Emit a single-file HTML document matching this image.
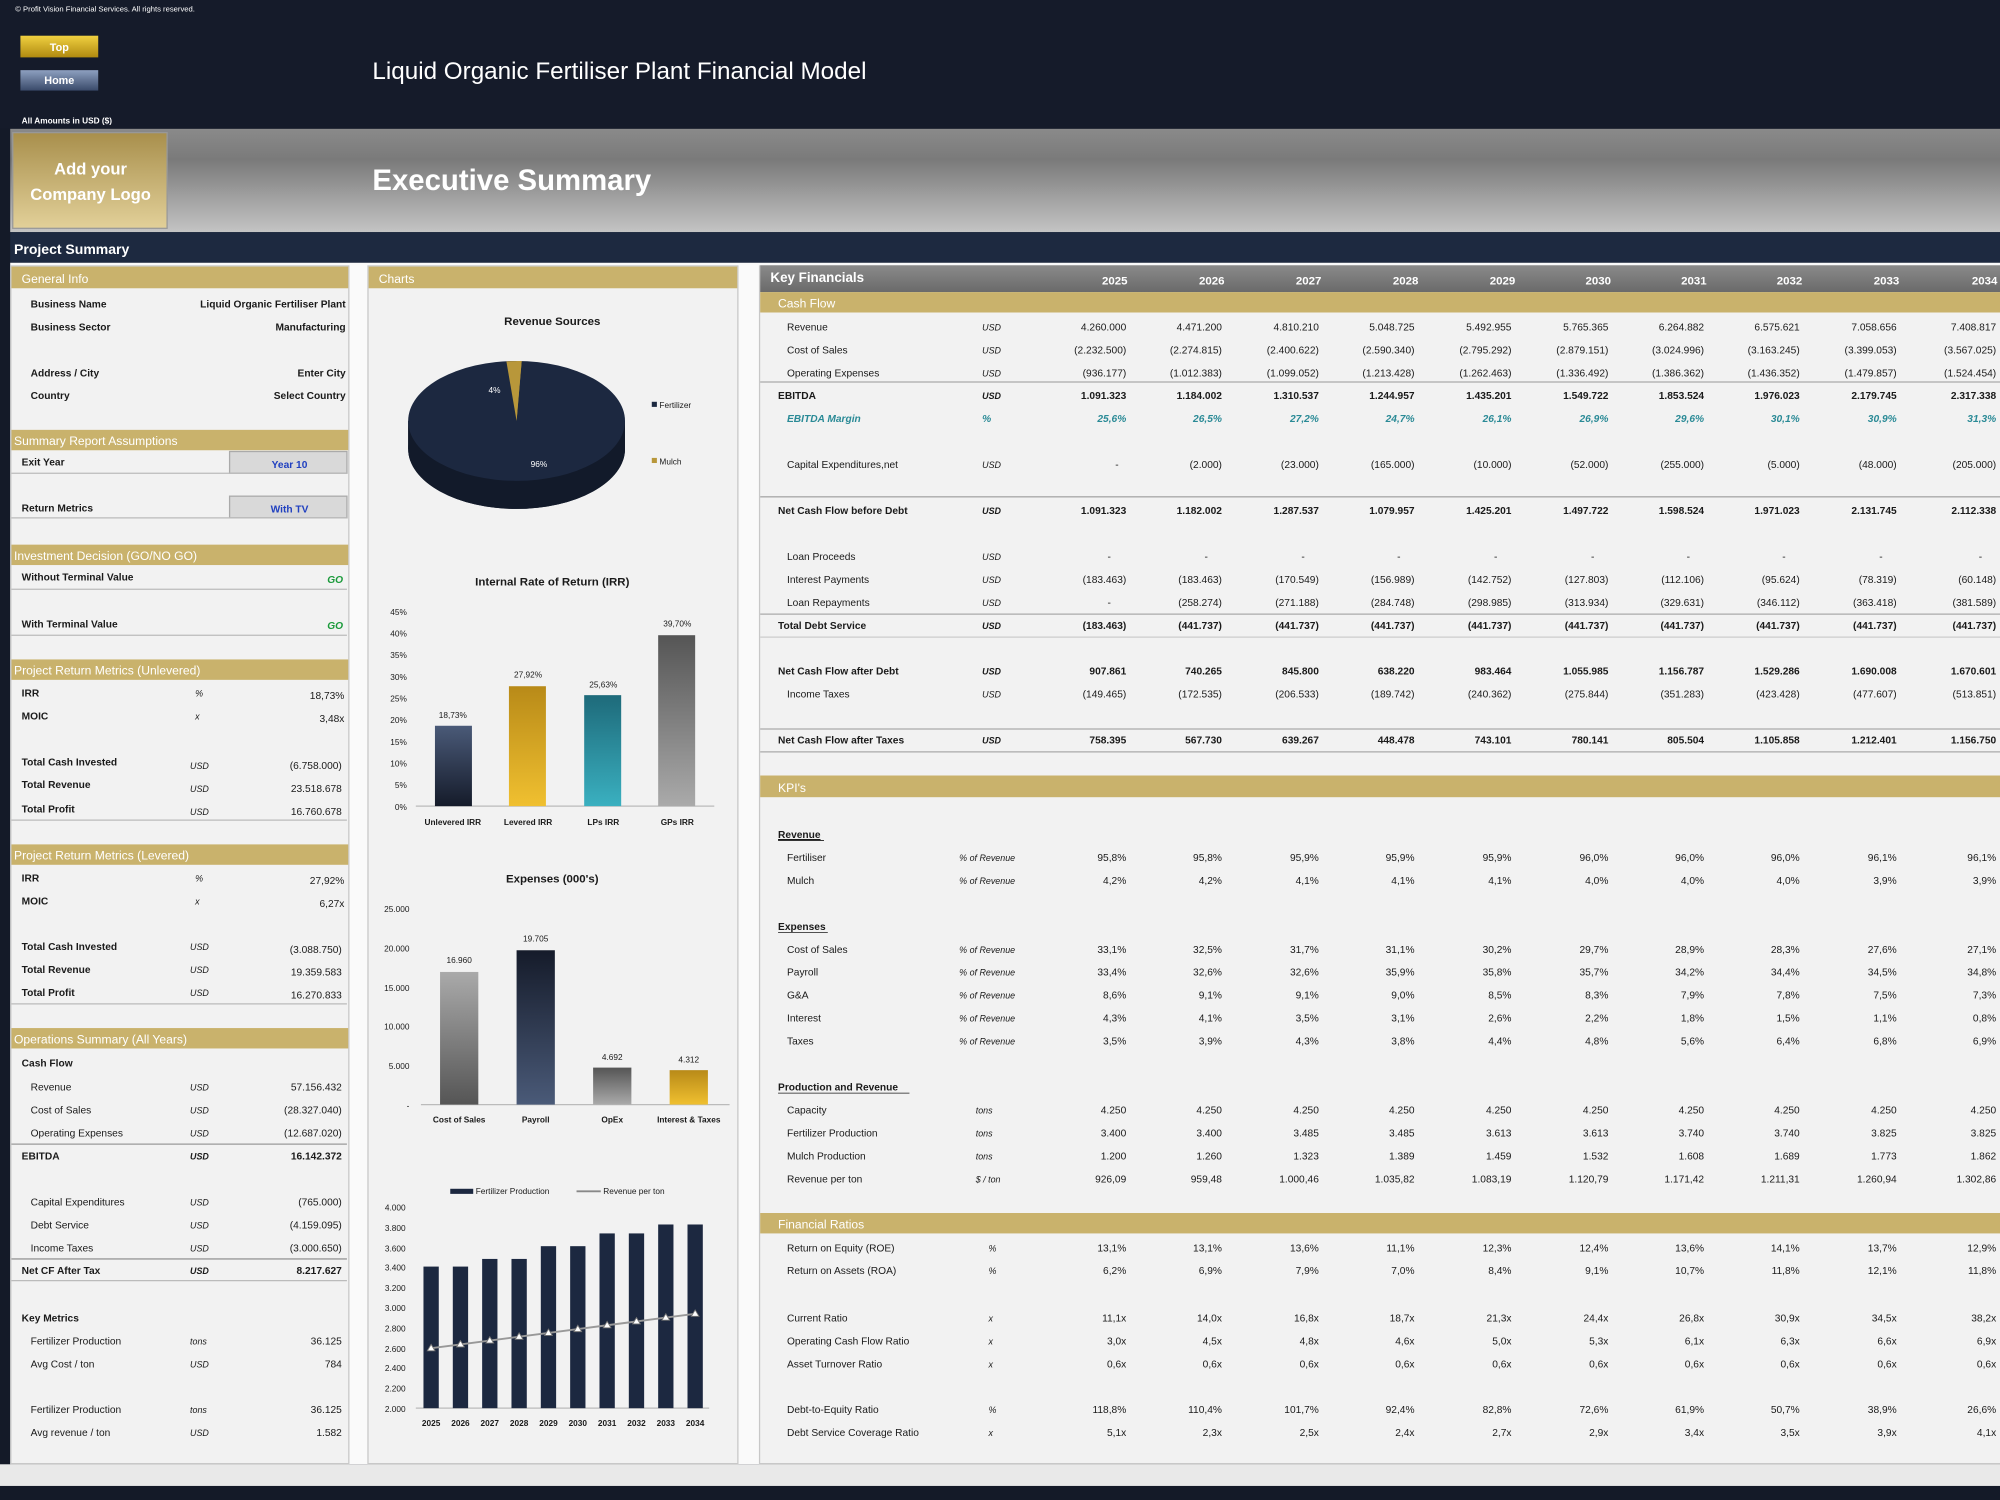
<!DOCTYPE html>
<html><head><meta charset="utf-8"><style>
html,body{margin:0;padding:0;background:#141a28}
svg{display:block}
text{font-family:"Liberation Sans",sans-serif;font-size:8px;fill:#1a1a1a}
.r{text-anchor:end}.m{text-anchor:middle}.b{font-weight:bold}.i{font-style:italic}
.w{fill:#fff}.g{fill:#fff;font-size:9.5px}.t{fill:#2a8a96;font-style:italic;font-weight:bold}
.u{font-style:italic;font-size:7px}
.s{font-size:6.5px}
</style></head><body>
<svg width="2000" height="1500" viewBox="0 0 1568 1176" preserveAspectRatio="none" xmlns="http://www.w3.org/2000/svg">
<defs>
<linearGradient id="band" x1="0" y1="0" x2="0" y2="1"><stop offset="0" stop-color="#8a8a8a"/><stop offset="0.3" stop-color="#7a7a7a"/><stop offset="1" stop-color="#c4c4c4"/></linearGradient>
<linearGradient id="logo" x1="0" y1="0" x2="0" y2="1"><stop offset="0" stop-color="#a88f4c"/><stop offset="1" stop-color="#e2d099"/></linearGradient>
<linearGradient id="btnG" x1="0" y1="0" x2="0" y2="1"><stop offset="0" stop-color="#f0d040"/><stop offset="1" stop-color="#b08a10"/></linearGradient>
<linearGradient id="btnB" x1="0" y1="0" x2="0" y2="1"><stop offset="0" stop-color="#8da0c0"/><stop offset="1" stop-color="#3a4a6a"/></linearGradient>
<linearGradient id="kh" x1="0" y1="0" x2="0" y2="1"><stop offset="0" stop-color="#8a8a8a"/><stop offset="1" stop-color="#6a6a6a"/></linearGradient>
<linearGradient id="bn" x1="0" y1="0" x2="0" y2="1"><stop offset="0" stop-color="#151b2a"/><stop offset="1" stop-color="#4a5a78"/></linearGradient>
<linearGradient id="bg" x1="0" y1="0" x2="0" y2="1"><stop offset="0" stop-color="#b88a18"/><stop offset="1" stop-color="#f0c030"/></linearGradient>
<linearGradient id="bt" x1="0" y1="0" x2="0" y2="1"><stop offset="0" stop-color="#1e6a7a"/><stop offset="1" stop-color="#3ab0c0"/></linearGradient>
<linearGradient id="bgr" x1="0" y1="0" x2="0" y2="1"><stop offset="0" stop-color="#555"/><stop offset="1" stop-color="#aaa"/></linearGradient>
</defs>
<!-- top -->
<rect x="0" y="0" width="1568" height="101" fill="#151b2a"/>
<text x="12" y="9" class="w" style="font-size:6px">© Profit Vision Financial Services. All rights reserved.</text>
<rect x="16" y="28" width="61" height="17" fill="url(#btnG)"/><text x="46.5" y="40" class="m w b" style="font-size:8.5px">Top</text>
<rect x="16" y="55" width="61" height="16" fill="url(#btnB)"/><text x="46.5" y="66" class="m w b" style="font-size:8.5px">Home</text>
<text x="292" y="62" class="w" style="font-size:19px">Liquid Organic Fertiliser Plant Financial Model</text>
<text x="17" y="97" class="w b" style="font-size:6.5px">All Amounts in  USD ($)</text>
<rect x="8" y="101" width="1560" height="81" fill="url(#band)"/>
<rect x="10" y="104" width="121" height="75" fill="url(#logo)" stroke="#999" stroke-width="1"/>
<text x="71" y="137" class="m w b" style="font-size:13px">Add your</text>
<text x="71" y="157" class="m w b" style="font-size:13px">Company Logo</text>
<text x="292" y="149" class="w b" style="font-size:23px">Executive Summary</text>
<rect x="8" y="182" width="1560" height="24" fill="#1d2940"/>
<text x="11" y="199" class="w b" style="font-size:11px">Project Summary</text>
<!-- body bg -->
<rect x="8" y="206" width="1560" height="942" fill="#fafafa"/>
<rect x="0" y="1148" width="1568" height="17" fill="#e9e9e9"/>
<rect x="0" y="1165" width="1568" height="11" fill="#141a28"/>
<!-- panels -->
<rect x="8.5" y="208.5" width="265" height="939" fill="#f2f2f2" stroke="#c8c8c8"/>
<rect x="288.5" y="208.5" width="290" height="939" fill="#f2f2f2" stroke="#c8c8c8"/>
<rect x="595.5" y="208.5" width="973" height="939" fill="#f2f2f2" stroke="#c8c8c8"/>

<!-- LEFT PANEL -->
<g>
<rect x="9" y="209" width="264" height="17" fill="#c9b26c"/><text x="17" y="222" class="g">General Info</text>
<text x="24" y="241" class="b">Business Name</text><text x="271" y="241" class="r b">Liquid Organic Fertiliser Plant</text>
<text x="24" y="259" class="b">Business Sector</text><text x="271" y="259" class="r b">Manufacturing</text>
<text x="24" y="295" class="b">Address / City</text><text x="271" y="295" class="r b">Enter City</text>
<text x="24" y="313" class="b">Country</text><text x="271" y="313" class="r b">Select Country</text>
<rect x="9" y="337" width="264" height="16" fill="#c9b26c"/><text x="11" y="349" class="g">Summary  Report Assumptions</text>
<text x="17" y="365" class="b">Exit Year</text>
<rect x="180" y="354" width="92" height="17" fill="#d9d9d9" stroke="#aaa"/><text x="227" y="367" class="m b" style="fill:#2040c0">Year 10</text>
<line x1="9" y1="371" x2="272" y2="371" stroke="#bbb"/>
<text x="17" y="401" class="b">Return Metrics</text>
<rect x="180" y="389" width="92" height="17" fill="#d9d9d9" stroke="#aaa"/><text x="227" y="402" class="m b" style="fill:#2040c0">With TV</text>
<line x1="9" y1="406" x2="272" y2="406" stroke="#bbb"/>
<rect x="9" y="427" width="264" height="16" fill="#c9b26c"/><text x="11" y="439" class="g">Investment Decision (GO/NO GO)</text>
<text x="17" y="455" class="b">Without Terminal Value</text><text x="269" y="457" class="r b i" style="fill:#1a9a3a">GO</text>
<line x1="9" y1="462" x2="272" y2="462" stroke="#bbb"/>
<text x="17" y="492" class="b">With Terminal Value</text><text x="269" y="493" class="r b i" style="fill:#1a9a3a">GO</text>
<line x1="9" y1="498" x2="272" y2="498" stroke="#bbb"/>
<rect x="9" y="517" width="264" height="16" fill="#c9b26c"/><text x="11" y="529" class="g">Project Return Metrics (Unlevered)</text>
<text x="17" y="546" class="b">IRR</text><text x="153" y="546" class="u">%</text><text x="270" y="548" class="r">18,73%</text>
<text x="17" y="564" class="b">MOIC</text><text x="153" y="564" class="u">x</text><text x="270" y="566" class="r">3,48x</text>
<text x="17" y="600" class="b">Total Cash Invested</text><text x="149" y="603" class="u">USD</text><text x="268" y="603" class="r">(6.758.000)</text>
<text x="17" y="618" class="b">Total Revenue</text><text x="149" y="621" class="u">USD</text><text x="268" y="621" class="r">23.518.678</text>
<text x="17" y="637" class="b">Total Profit</text><text x="149" y="639" class="u">USD</text><text x="268" y="639" class="r">16.760.678</text>
<line x1="9" y1="643" x2="272" y2="643" stroke="#bbb"/>
<rect x="9" y="662" width="264" height="16" fill="#c9b26c"/><text x="11" y="674" class="g">Project Return Metrics (Levered)</text>
<text x="17" y="691" class="b">IRR</text><text x="153" y="691" class="u">%</text><text x="270" y="693" class="r">27,92%</text>
<text x="17" y="709" class="b">MOIC</text><text x="153" y="709" class="u">x</text><text x="270" y="711" class="r">6,27x</text>
<text x="17" y="745" class="b">Total Cash Invested</text><text x="149" y="745" class="u">USD</text><text x="268" y="747" class="r">(3.088.750)</text>
<text x="17" y="763" class="b">Total Revenue</text><text x="149" y="763" class="u">USD</text><text x="268" y="765" class="r">19.359.583</text>
<text x="17" y="781" class="b">Total Profit</text><text x="149" y="781" class="u">USD</text><text x="268" y="783" class="r">16.270.833</text>
<line x1="9" y1="787" x2="272" y2="787" stroke="#bbb"/>
<rect x="9" y="806" width="264" height="16" fill="#c9b26c"/><text x="11" y="818" class="g">Operations Summary (All Years)</text>
<text x="17" y="836" class="b">Cash Flow</text>
<text x="24" y="855">Revenue</text><text x="149" y="855" class="u">USD</text><text x="268" y="855" class="r">57.156.432</text>
<text x="24" y="873">Cost of Sales</text><text x="149" y="873" class="u">USD</text><text x="268" y="873" class="r">(28.327.040)</text>
<text x="24" y="891">Operating Expenses</text><text x="149" y="891" class="u">USD</text><text x="268" y="891" class="r">(12.687.020)</text>
<line x1="9" y1="897" x2="272" y2="897" stroke="#999"/>
<text x="17" y="909" class="b">EBITDA</text><text x="149" y="909" class="u b">USD</text><text x="268" y="909" class="r b">16.142.372</text>
<text x="24" y="945">Capital Expenditures</text><text x="149" y="945" class="u">USD</text><text x="268" y="945" class="r">(765.000)</text>
<text x="24" y="963">Debt Service</text><text x="149" y="963" class="u">USD</text><text x="268" y="963" class="r">(4.159.095)</text>
<text x="24" y="981">Income Taxes</text><text x="149" y="981" class="u">USD</text><text x="268" y="981" class="r">(3.000.650)</text>
<line x1="9" y1="987" x2="272" y2="987" stroke="#999"/>
<text x="17" y="999" class="b">Net CF After Tax</text><text x="149" y="999" class="u b">USD</text><text x="268" y="999" class="r b">8.217.627</text>
<line x1="9" y1="1004" x2="272" y2="1004" stroke="#bbb"/>
<text x="17" y="1036" class="b">Key Metrics</text>
<text x="24" y="1054">Fertilizer Production</text><text x="149" y="1054" class="u">tons</text><text x="268" y="1054" class="r">36.125</text>
<text x="24" y="1072">Avg Cost / ton</text><text x="149" y="1072" class="u">USD</text><text x="268" y="1072" class="r">784</text>
<text x="24" y="1108">Fertilizer Production</text><text x="149" y="1108" class="u">tons</text><text x="268" y="1108" class="r">36.125</text>
<text x="24" y="1126">Avg revenue / ton</text><text x="149" y="1126" class="u">USD</text><text x="268" y="1126" class="r">1.582</text>
</g>

<!-- CHARTS PANEL -->
<rect x="289" y="209" width="289" height="17" fill="#c9b26c"/><text x="297" y="222" class="g">Charts</text>
<text x="433" y="255" class="m b" style="font-size:9px">Revenue Sources</text>
<!-- pie 3D -->
<path d="M320 330 L320 352 A85 47 0 0 0 490 352 L490 330 Z" fill="#121a2a"/>
<ellipse cx="405" cy="352" rx="85" ry="47" fill="#121a2a"/>
<rect x="320" y="330" width="170" height="22" fill="#121a2a"/>
<ellipse cx="405" cy="330" rx="85" ry="47" fill="#1c2840"/>
<path d="M405 330 L405 283 A85 47 0 0 1 409 283 Z" fill="#b8973a"/>
<path d="M405 330 L397 283.3 A85 47 0 0 1 409 283 Z" fill="#b8973a"/>
<text x="383" y="308" class="w s">4%</text><text x="416" y="366" class="w s">96%</text>
<rect x="511" y="315" width="4" height="4" fill="#1c2840"/><text x="517" y="320" class="s">Fertilizer</text>
<rect x="511" y="359" width="4" height="4" fill="#b8973a"/><text x="517" y="364" class="s">Mulch</text>
<!-- IRR -->
<text x="433" y="459" class="m b" style="font-size:9px">Internal Rate of Return (IRR)</text>
<g class="s">
<text x="319" y="482" class="r s">45%</text><text x="319" y="499" class="r s">40%</text><text x="319" y="516" class="r s">35%</text><text x="319" y="533" class="r s">30%</text><text x="319" y="550" class="r s">25%</text><text x="319" y="567" class="r s">20%</text><text x="319" y="584" class="r s">15%</text><text x="319" y="601" class="r s">10%</text><text x="319" y="618" class="r s">5%</text><text x="319" y="635" class="r s">0%</text>
</g>
<line x1="326" y1="632" x2="560" y2="632" stroke="#bbb"/>
<rect x="341" y="569" width="29" height="63" fill="url(#bn)" transform="rotate(180 355.5 600.5)"/>
<rect x="399" y="538" width="29" height="94" fill="url(#bg)"/>
<rect x="458" y="545" width="29" height="87" fill="url(#bt)"/>
<rect x="516" y="498" width="29" height="134" fill="url(#bgr)"/>
<text x="355" y="563" class="m s">18,73%</text><text x="414" y="531" class="m s">27,92%</text><text x="473" y="539" class="m s">25,63%</text><text x="531" y="491" class="m s">39,70%</text>
<text x="355" y="647" class="m s b">Unlevered IRR</text><text x="414" y="647" class="m s b">Levered IRR</text><text x="473" y="647" class="m s b">LPs IRR</text><text x="531" y="647" class="m s b">GPs IRR</text>
<!-- Expenses -->
<text x="433" y="692" class="m b" style="font-size:9px">Expenses (000's)</text>
<text x="321" y="715" class="r s">25.000</text><text x="321" y="746" class="r s">20.000</text><text x="321" y="777" class="r s">15.000</text><text x="321" y="807" class="r s">10.000</text><text x="321" y="838" class="r s">5.000</text><text x="321" y="869" class="r s">-</text>
<line x1="330" y1="866" x2="572" y2="866" stroke="#bbb"/>
<rect x="345" y="762" width="30" height="104" fill="url(#bgr)" transform="rotate(180 360 814)"/>
<rect x="405" y="745" width="30" height="121" fill="url(#bn)"/>
<rect x="465" y="837" width="30" height="29" fill="url(#bgr)"/>
<rect x="525" y="839" width="30" height="27" fill="url(#bg)"/>
<text x="360" y="755" class="m s">16.960</text><text x="420" y="738" class="m s">19.705</text><text x="480" y="831" class="m s">4.692</text><text x="540" y="833" class="m s">4.312</text>
<text x="360" y="880" class="m s b">Cost of Sales</text><text x="420" y="880" class="m s b">Payroll</text><text x="480" y="880" class="m s b">OpEx</text><text x="540" y="880" class="m s b">Interest &amp; Taxes</text>
<!-- Production -->
<rect x="353" y="932" width="18" height="4" fill="#1c2840"/><text x="373" y="936" class="s">Fertilizer Production</text>
<line x1="452" y1="934" x2="471" y2="934" stroke="#888" stroke-width="1.5"/><text x="473" y="936" class="s">Revenue per ton</text>
<g>
<text x="318" y="949" class="r s">4.000</text><text x="318" y="965" class="r s">3.800</text><text x="318" y="981" class="r s">3.600</text><text x="318" y="996" class="r s">3.400</text><text x="318" y="1012" class="r s">3.200</text><text x="318" y="1028" class="r s">3.000</text><text x="318" y="1044" class="r s">2.800</text><text x="318" y="1060" class="r s">2.600</text><text x="318" y="1075" class="r s">2.400</text><text x="318" y="1091" class="r s">2.200</text><text x="318" y="1107" class="r s">2.000</text>
</g>
<line x1="326" y1="1104" x2="556" y2="1104" stroke="#bbb"/>
<g fill="#1c2840">
<rect x="332" y="993" width="12" height="111"/><rect x="355" y="993" width="12" height="111"/><rect x="378" y="987" width="12" height="117"/><rect x="401" y="987" width="12" height="117"/><rect x="424" y="977" width="12" height="127"/><rect x="447" y="977" width="12" height="127"/><rect x="470" y="967" width="12" height="137"/><rect x="493" y="967" width="12" height="137"/><rect x="516" y="960" width="12" height="144"/><rect x="539" y="960" width="12" height="144"/>
</g>
<polyline points="338,1057 361,1054 384,1051 407,1048 430,1045 453,1042 476,1039 499,1036 522,1033 545,1030" fill="none" stroke="#999" stroke-width="1.5"/>
<g fill="#fff" stroke="#777" stroke-width="0.7">
<path d="M338 1054 l3 5 h-6z"/><path d="M361 1051 l3 5 h-6z"/><path d="M384 1048 l3 5 h-6z"/><path d="M407 1045 l3 5 h-6z"/><path d="M430 1042 l3 5 h-6z"/><path d="M453 1039 l3 5 h-6z"/><path d="M476 1036 l3 5 h-6z"/><path d="M499 1033 l3 5 h-6z"/><path d="M522 1030 l3 5 h-6z"/><path d="M545 1027 l3 5 h-6z"/>
</g>
<g class="s b">
<text x="338" y="1118" class="m s b">2025</text><text x="361" y="1118" class="m s b">2026</text><text x="384" y="1118" class="m s b">2027</text><text x="407" y="1118" class="m s b">2028</text><text x="430" y="1118" class="m s b">2029</text><text x="453" y="1118" class="m s b">2030</text><text x="476" y="1118" class="m s b">2031</text><text x="499" y="1118" class="m s b">2032</text><text x="522" y="1118" class="m s b">2033</text><text x="545" y="1118" class="m s b">2034</text>
</g>

<!-- KEY FINANCIALS -->
<rect x="596" y="208" width="972" height="21" fill="url(#kh)"/>
<text x="604" y="221" class="w b" style="font-size:10.5px">Key Financials</text>
<g class="w b">
<text x="884" y="223" class="r w b" style="font-size:9px">2025</text><text x="960" y="223" class="r w b" style="font-size:9px">2026</text><text x="1036" y="223" class="r w b" style="font-size:9px">2027</text><text x="1112" y="223" class="r w b" style="font-size:9px">2028</text><text x="1188" y="223" class="r w b" style="font-size:9px">2029</text><text x="1263" y="223" class="r w b" style="font-size:9px">2030</text><text x="1338" y="223" class="r w b" style="font-size:9px">2031</text><text x="1413" y="223" class="r w b" style="font-size:9px">2032</text><text x="1489" y="223" class="r w b" style="font-size:9px">2033</text><text x="1566" y="223" class="r w b" style="font-size:9px">2034</text>
</g>
<rect x="596" y="229" width="972" height="16" fill="#c9b26c"/><text x="610" y="241" class="g">Cash Flow</text>

<text x="617" y="259">Revenue</text><text x="770" y="259" class="u">USD</text>
<text x="883" y="259" class="r">4.260.000</text><text x="958" y="259" class="r">4.471.200</text><text x="1034" y="259" class="r">4.810.210</text><text x="1109" y="259" class="r">5.048.725</text><text x="1185" y="259" class="r">5.492.955</text><text x="1261" y="259" class="r">5.765.365</text><text x="1336" y="259" class="r">6.264.882</text><text x="1411" y="259" class="r">6.575.621</text><text x="1487" y="259" class="r">7.058.656</text><text x="1565" y="259" class="r">7.408.817</text>
<text x="617" y="277">Cost of Sales</text><text x="770" y="277" class="u">USD</text>
<text x="883" y="277" class="r">(2.232.500)</text><text x="958" y="277" class="r">(2.274.815)</text><text x="1034" y="277" class="r">(2.400.622)</text><text x="1109" y="277" class="r">(2.590.340)</text><text x="1185" y="277" class="r">(2.795.292)</text><text x="1261" y="277" class="r">(2.879.151)</text><text x="1336" y="277" class="r">(3.024.996)</text><text x="1411" y="277" class="r">(3.163.245)</text><text x="1487" y="277" class="r">(3.399.053)</text><text x="1565" y="277" class="r">(3.567.025)</text>
<text x="617" y="295">Operating Expenses</text><text x="770" y="295" class="u">USD</text>
<text x="883" y="295" class="r">(936.177)</text><text x="958" y="295" class="r">(1.012.383)</text><text x="1034" y="295" class="r">(1.099.052)</text><text x="1109" y="295" class="r">(1.213.428)</text><text x="1185" y="295" class="r">(1.262.463)</text><text x="1261" y="295" class="r">(1.336.492)</text><text x="1336" y="295" class="r">(1.386.362)</text><text x="1411" y="295" class="r">(1.436.352)</text><text x="1487" y="295" class="r">(1.479.857)</text><text x="1565" y="295" class="r">(1.524.454)</text>
<line x1="596" y1="299.5" x2="1568" y2="299.5" stroke="#aaa"/>
<text x="610" y="313" class="b">EBITDA</text><text x="770" y="313" class="u b">USD</text>
<g class="b"><text x="883" y="313" class="r b">1.091.323</text><text x="958" y="313" class="r b">1.184.002</text><text x="1034" y="313" class="r b">1.310.537</text><text x="1109" y="313" class="r b">1.244.957</text><text x="1185" y="313" class="r b">1.435.201</text><text x="1261" y="313" class="r b">1.549.722</text><text x="1336" y="313" class="r b">1.853.524</text><text x="1411" y="313" class="r b">1.976.023</text><text x="1487" y="313" class="r b">2.179.745</text><text x="1565" y="313" class="r b">2.317.338</text></g>
<text x="617" y="331" class="t">EBITDA Margin</text><text x="770" y="331" class="t">%</text>
<text x="883" y="331" class="r t">25,6%</text><text x="958" y="331" class="r t">26,5%</text><text x="1034" y="331" class="r t">27,2%</text><text x="1109" y="331" class="r t">24,7%</text><text x="1185" y="331" class="r t">26,1%</text><text x="1261" y="331" class="r t">26,9%</text><text x="1336" y="331" class="r t">29,6%</text><text x="1411" y="331" class="r t">30,1%</text><text x="1487" y="331" class="r t">30,9%</text><text x="1565" y="331" class="r t">31,3%</text>
<text x="617" y="367">Capital Expenditures,net</text><text x="770" y="367" class="u">USD</text>
<text x="877" y="367" class="r">-</text><text x="958" y="367" class="r">(2.000)</text><text x="1034" y="367" class="r">(23.000)</text><text x="1109" y="367" class="r">(165.000)</text><text x="1185" y="367" class="r">(10.000)</text><text x="1261" y="367" class="r">(52.000)</text><text x="1336" y="367" class="r">(255.000)</text><text x="1411" y="367" class="r">(5.000)</text><text x="1487" y="367" class="r">(48.000)</text><text x="1565" y="367" class="r">(205.000)</text>
<line x1="596" y1="389.5" x2="1568" y2="389.5" stroke="#aaa"/>
<text x="610" y="403" class="b">Net Cash Flow before Debt</text><text x="770" y="403" class="u b">USD</text>
<text x="883" y="403" class="r b">1.091.323</text><text x="958" y="403" class="r b">1.182.002</text><text x="1034" y="403" class="r b">1.287.537</text><text x="1109" y="403" class="r b">1.079.957</text><text x="1185" y="403" class="r b">1.425.201</text><text x="1261" y="403" class="r b">1.497.722</text><text x="1336" y="403" class="r b">1.598.524</text><text x="1411" y="403" class="r b">1.971.023</text><text x="1487" y="403" class="r b">2.131.745</text><text x="1565" y="403" class="r b">2.112.338</text>
<text x="617" y="439">Loan Proceeds</text><text x="770" y="439" class="u">USD</text>
<text x="871" y="439" class="r">-</text><text x="947" y="439" class="r">-</text><text x="1023" y="439" class="r">-</text><text x="1098" y="439" class="r">-</text><text x="1174" y="439" class="r">-</text><text x="1250" y="439" class="r">-</text><text x="1325" y="439" class="r">-</text><text x="1400" y="439" class="r">-</text><text x="1476" y="439" class="r">-</text><text x="1554" y="439" class="r">-</text>
<text x="617" y="457">Interest Payments</text><text x="770" y="457" class="u">USD</text>
<text x="883" y="457" class="r">(183.463)</text><text x="958" y="457" class="r">(183.463)</text><text x="1034" y="457" class="r">(170.549)</text><text x="1109" y="457" class="r">(156.989)</text><text x="1185" y="457" class="r">(142.752)</text><text x="1261" y="457" class="r">(127.803)</text><text x="1336" y="457" class="r">(112.106)</text><text x="1411" y="457" class="r">(95.624)</text><text x="1487" y="457" class="r">(78.319)</text><text x="1565" y="457" class="r">(60.148)</text>
<text x="617" y="475">Loan Repayments</text><text x="770" y="475" class="u">USD</text>
<text x="871" y="475" class="r">-</text><text x="958" y="475" class="r">(258.274)</text><text x="1034" y="475" class="r">(271.188)</text><text x="1109" y="475" class="r">(284.748)</text><text x="1185" y="475" class="r">(298.985)</text><text x="1261" y="475" class="r">(313.934)</text><text x="1336" y="475" class="r">(329.631)</text><text x="1411" y="475" class="r">(346.112)</text><text x="1487" y="475" class="r">(363.418)</text><text x="1565" y="475" class="r">(381.589)</text>
<line x1="596" y1="481.5" x2="1568" y2="481.5" stroke="#aaa"/>
<text x="610" y="493" class="b">Total Debt Service</text><text x="770" y="493" class="u b">USD</text>
<text x="883" y="493" class="r b">(183.463)</text><text x="958" y="493" class="r b">(441.737)</text><text x="1034" y="493" class="r b">(441.737)</text><text x="1109" y="493" class="r b">(441.737)</text><text x="1185" y="493" class="r b">(441.737)</text><text x="1261" y="493" class="r b">(441.737)</text><text x="1336" y="493" class="r b">(441.737)</text><text x="1411" y="493" class="r b">(441.737)</text><text x="1487" y="493" class="r b">(441.737)</text><text x="1565" y="493" class="r b">(441.737)</text>
<line x1="596" y1="499.5" x2="1568" y2="499.5" stroke="#ccc"/>
<text x="610" y="529" class="b">Net Cash Flow after Debt</text><text x="770" y="529" class="u b">USD</text>
<text x="883" y="529" class="r b">907.861</text><text x="958" y="529" class="r b">740.265</text><text x="1034" y="529" class="r b">845.800</text><text x="1109" y="529" class="r b">638.220</text><text x="1185" y="529" class="r b">983.464</text><text x="1261" y="529" class="r b">1.055.985</text><text x="1336" y="529" class="r b">1.156.787</text><text x="1411" y="529" class="r b">1.529.286</text><text x="1487" y="529" class="r b">1.690.008</text><text x="1565" y="529" class="r b">1.670.601</text>
<text x="617" y="547">Income Taxes</text><text x="770" y="547" class="u">USD</text>
<text x="883" y="547" class="r">(149.465)</text><text x="958" y="547" class="r">(172.535)</text><text x="1034" y="547" class="r">(206.533)</text><text x="1109" y="547" class="r">(189.742)</text><text x="1185" y="547" class="r">(240.362)</text><text x="1261" y="547" class="r">(275.844)</text><text x="1336" y="547" class="r">(351.283)</text><text x="1411" y="547" class="r">(423.428)</text><text x="1487" y="547" class="r">(477.607)</text><text x="1565" y="547" class="r">(513.851)</text>
<line x1="596" y1="571.5" x2="1568" y2="571.5" stroke="#aaa"/>
<text x="610" y="583" class="b">Net Cash Flow after Taxes</text><text x="770" y="583" class="u b">USD</text>
<text x="883" y="583" class="r b">758.395</text><text x="958" y="583" class="r b">567.730</text><text x="1034" y="583" class="r b">639.267</text><text x="1109" y="583" class="r b">448.478</text><text x="1185" y="583" class="r b">743.101</text><text x="1261" y="583" class="r b">780.141</text><text x="1336" y="583" class="r b">805.504</text><text x="1411" y="583" class="r b">1.105.858</text><text x="1487" y="583" class="r b">1.212.401</text><text x="1565" y="583" class="r b">1.156.750</text>
<line x1="596" y1="589.5" x2="1568" y2="589.5" stroke="#aaa"/>

<rect x="596" y="608" width="972" height="17" fill="#c9b26c"/><text x="610" y="621" class="g">KPI's</text>
<text x="610" y="657" class="b" style="text-decoration:underline">Revenue</text>
<line x1="610" y1="659" x2="646" y2="659" stroke="#1a1a1a" stroke-width="0.6"/>
<text x="617" y="675">Fertiliser</text><text x="752" y="675" class="u">% of Revenue</text>
<text x="883" y="675" class="r">95,8%</text><text x="958" y="675" class="r">95,8%</text><text x="1034" y="675" class="r">95,9%</text><text x="1109" y="675" class="r">95,9%</text><text x="1185" y="675" class="r">95,9%</text><text x="1261" y="675" class="r">96,0%</text><text x="1336" y="675" class="r">96,0%</text><text x="1411" y="675" class="r">96,0%</text><text x="1487" y="675" class="r">96,1%</text><text x="1565" y="675" class="r">96,1%</text>
<text x="617" y="693">Mulch</text><text x="752" y="693" class="u">% of Revenue</text>
<text x="883" y="693" class="r">4,2%</text><text x="958" y="693" class="r">4,2%</text><text x="1034" y="693" class="r">4,1%</text><text x="1109" y="693" class="r">4,1%</text><text x="1185" y="693" class="r">4,1%</text><text x="1261" y="693" class="r">4,0%</text><text x="1336" y="693" class="r">4,0%</text><text x="1411" y="693" class="r">4,0%</text><text x="1487" y="693" class="r">3,9%</text><text x="1565" y="693" class="r">3,9%</text>
<text x="610" y="729" class="b">Expenses</text><line x1="610" y1="731" x2="649" y2="731" stroke="#1a1a1a" stroke-width="0.6"/>
<text x="617" y="747">Cost of Sales</text><text x="752" y="747" class="u">% of Revenue</text>
<text x="883" y="747" class="r">33,1%</text><text x="958" y="747" class="r">32,5%</text><text x="1034" y="747" class="r">31,7%</text><text x="1109" y="747" class="r">31,1%</text><text x="1185" y="747" class="r">30,2%</text><text x="1261" y="747" class="r">29,7%</text><text x="1336" y="747" class="r">28,9%</text><text x="1411" y="747" class="r">28,3%</text><text x="1487" y="747" class="r">27,6%</text><text x="1565" y="747" class="r">27,1%</text>
<text x="617" y="765">Payroll</text><text x="752" y="765" class="u">% of Revenue</text>
<text x="883" y="765" class="r">33,4%</text><text x="958" y="765" class="r">32,6%</text><text x="1034" y="765" class="r">32,6%</text><text x="1109" y="765" class="r">35,9%</text><text x="1185" y="765" class="r">35,8%</text><text x="1261" y="765" class="r">35,7%</text><text x="1336" y="765" class="r">34,2%</text><text x="1411" y="765" class="r">34,4%</text><text x="1487" y="765" class="r">34,5%</text><text x="1565" y="765" class="r">34,8%</text>
<text x="617" y="783">G&amp;A</text><text x="752" y="783" class="u">% of Revenue</text>
<text x="883" y="783" class="r">8,6%</text><text x="958" y="783" class="r">9,1%</text><text x="1034" y="783" class="r">9,1%</text><text x="1109" y="783" class="r">9,0%</text><text x="1185" y="783" class="r">8,5%</text><text x="1261" y="783" class="r">8,3%</text><text x="1336" y="783" class="r">7,9%</text><text x="1411" y="783" class="r">7,8%</text><text x="1487" y="783" class="r">7,5%</text><text x="1565" y="783" class="r">7,3%</text>
<text x="617" y="801">Interest</text><text x="752" y="801" class="u">% of Revenue</text>
<text x="883" y="801" class="r">4,3%</text><text x="958" y="801" class="r">4,1%</text><text x="1034" y="801" class="r">3,5%</text><text x="1109" y="801" class="r">3,1%</text><text x="1185" y="801" class="r">2,6%</text><text x="1261" y="801" class="r">2,2%</text><text x="1336" y="801" class="r">1,8%</text><text x="1411" y="801" class="r">1,5%</text><text x="1487" y="801" class="r">1,1%</text><text x="1565" y="801" class="r">0,8%</text>
<text x="617" y="819">Taxes</text><text x="752" y="819" class="u">% of Revenue</text>
<text x="883" y="819" class="r">3,5%</text><text x="958" y="819" class="r">3,9%</text><text x="1034" y="819" class="r">4,3%</text><text x="1109" y="819" class="r">3,8%</text><text x="1185" y="819" class="r">4,4%</text><text x="1261" y="819" class="r">4,8%</text><text x="1336" y="819" class="r">5,6%</text><text x="1411" y="819" class="r">6,4%</text><text x="1487" y="819" class="r">6,8%</text><text x="1565" y="819" class="r">6,9%</text>
<text x="610" y="855" class="b">Production and Revenue</text><line x1="610" y1="857" x2="713" y2="857" stroke="#1a1a1a" stroke-width="0.6"/>
<text x="617" y="873">Capacity</text><text x="765" y="873" class="u">tons</text>
<text x="883" y="873" class="r">4.250</text><text x="958" y="873" class="r">4.250</text><text x="1034" y="873" class="r">4.250</text><text x="1109" y="873" class="r">4.250</text><text x="1185" y="873" class="r">4.250</text><text x="1261" y="873" class="r">4.250</text><text x="1336" y="873" class="r">4.250</text><text x="1411" y="873" class="r">4.250</text><text x="1487" y="873" class="r">4.250</text><text x="1565" y="873" class="r">4.250</text>
<text x="617" y="891">Fertilizer Production</text><text x="765" y="891" class="u">tons</text>
<text x="883" y="891" class="r">3.400</text><text x="958" y="891" class="r">3.400</text><text x="1034" y="891" class="r">3.485</text><text x="1109" y="891" class="r">3.485</text><text x="1185" y="891" class="r">3.613</text><text x="1261" y="891" class="r">3.613</text><text x="1336" y="891" class="r">3.740</text><text x="1411" y="891" class="r">3.740</text><text x="1487" y="891" class="r">3.825</text><text x="1565" y="891" class="r">3.825</text>
<text x="617" y="909">Mulch Production</text><text x="765" y="909" class="u">tons</text>
<text x="883" y="909" class="r">1.200</text><text x="958" y="909" class="r">1.260</text><text x="1034" y="909" class="r">1.323</text><text x="1109" y="909" class="r">1.389</text><text x="1185" y="909" class="r">1.459</text><text x="1261" y="909" class="r">1.532</text><text x="1336" y="909" class="r">1.608</text><text x="1411" y="909" class="r">1.689</text><text x="1487" y="909" class="r">1.773</text><text x="1565" y="909" class="r">1.862</text>
<text x="617" y="927">Revenue per ton</text><text x="765" y="927" class="u">$ / ton</text>
<text x="883" y="927" class="r">926,09</text><text x="958" y="927" class="r">959,48</text><text x="1034" y="927" class="r">1.000,46</text><text x="1109" y="927" class="r">1.035,82</text><text x="1185" y="927" class="r">1.083,19</text><text x="1261" y="927" class="r">1.120,79</text><text x="1336" y="927" class="r">1.171,42</text><text x="1411" y="927" class="r">1.211,31</text><text x="1487" y="927" class="r">1.260,94</text><text x="1565" y="927" class="r">1.302,86</text>

<rect x="596" y="951" width="972" height="16" fill="#c9b26c"/><text x="610" y="963" class="g">Financial Ratios</text>
<text x="617" y="981">Return on Equity (ROE)</text><text x="775" y="981" class="u">%</text>
<text x="883" y="981" class="r">13,1%</text><text x="958" y="981" class="r">13,1%</text><text x="1034" y="981" class="r">13,6%</text><text x="1109" y="981" class="r">11,1%</text><text x="1185" y="981" class="r">12,3%</text><text x="1261" y="981" class="r">12,4%</text><text x="1336" y="981" class="r">13,6%</text><text x="1411" y="981" class="r">14,1%</text><text x="1487" y="981" class="r">13,7%</text><text x="1565" y="981" class="r">12,9%</text>
<text x="617" y="999">Return on Assets (ROA)</text><text x="775" y="999" class="u">%</text>
<text x="883" y="999" class="r">6,2%</text><text x="958" y="999" class="r">6,9%</text><text x="1034" y="999" class="r">7,9%</text><text x="1109" y="999" class="r">7,0%</text><text x="1185" y="999" class="r">8,4%</text><text x="1261" y="999" class="r">9,1%</text><text x="1336" y="999" class="r">10,7%</text><text x="1411" y="999" class="r">11,8%</text><text x="1487" y="999" class="r">12,1%</text><text x="1565" y="999" class="r">11,8%</text>
<text x="617" y="1036">Current Ratio</text><text x="775" y="1036" class="u">x</text>
<text x="883" y="1036" class="r">11,1x</text><text x="958" y="1036" class="r">14,0x</text><text x="1034" y="1036" class="r">16,8x</text><text x="1109" y="1036" class="r">18,7x</text><text x="1185" y="1036" class="r">21,3x</text><text x="1261" y="1036" class="r">24,4x</text><text x="1336" y="1036" class="r">26,8x</text><text x="1411" y="1036" class="r">30,9x</text><text x="1487" y="1036" class="r">34,5x</text><text x="1565" y="1036" class="r">38,2x</text>
<text x="617" y="1054">Operating Cash Flow Ratio</text><text x="775" y="1054" class="u">x</text>
<text x="883" y="1054" class="r">3,0x</text><text x="958" y="1054" class="r">4,5x</text><text x="1034" y="1054" class="r">4,8x</text><text x="1109" y="1054" class="r">4,6x</text><text x="1185" y="1054" class="r">5,0x</text><text x="1261" y="1054" class="r">5,3x</text><text x="1336" y="1054" class="r">6,1x</text><text x="1411" y="1054" class="r">6,3x</text><text x="1487" y="1054" class="r">6,6x</text><text x="1565" y="1054" class="r">6,9x</text>
<text x="617" y="1072">Asset Turnover Ratio</text><text x="775" y="1072" class="u">x</text>
<text x="883" y="1072" class="r">0,6x</text><text x="958" y="1072" class="r">0,6x</text><text x="1034" y="1072" class="r">0,6x</text><text x="1109" y="1072" class="r">0,6x</text><text x="1185" y="1072" class="r">0,6x</text><text x="1261" y="1072" class="r">0,6x</text><text x="1336" y="1072" class="r">0,6x</text><text x="1411" y="1072" class="r">0,6x</text><text x="1487" y="1072" class="r">0,6x</text><text x="1565" y="1072" class="r">0,6x</text>
<text x="617" y="1108">Debt-to-Equity Ratio</text><text x="775" y="1108" class="u">%</text>
<text x="883" y="1108" class="r">118,8%</text><text x="958" y="1108" class="r">110,4%</text><text x="1034" y="1108" class="r">101,7%</text><text x="1109" y="1108" class="r">92,4%</text><text x="1185" y="1108" class="r">82,8%</text><text x="1261" y="1108" class="r">72,6%</text><text x="1336" y="1108" class="r">61,9%</text><text x="1411" y="1108" class="r">50,7%</text><text x="1487" y="1108" class="r">38,9%</text><text x="1565" y="1108" class="r">26,6%</text>
<text x="617" y="1126">Debt Service Coverage Ratio</text><text x="775" y="1126" class="u">x</text>
<text x="883" y="1126" class="r">5,1x</text><text x="958" y="1126" class="r">2,3x</text><text x="1034" y="1126" class="r">2,5x</text><text x="1109" y="1126" class="r">2,4x</text><text x="1185" y="1126" class="r">2,7x</text><text x="1261" y="1126" class="r">2,9x</text><text x="1336" y="1126" class="r">3,4x</text><text x="1411" y="1126" class="r">3,5x</text><text x="1487" y="1126" class="r">3,9x</text><text x="1565" y="1126" class="r">4,1x</text>
</svg>
</body></html>
